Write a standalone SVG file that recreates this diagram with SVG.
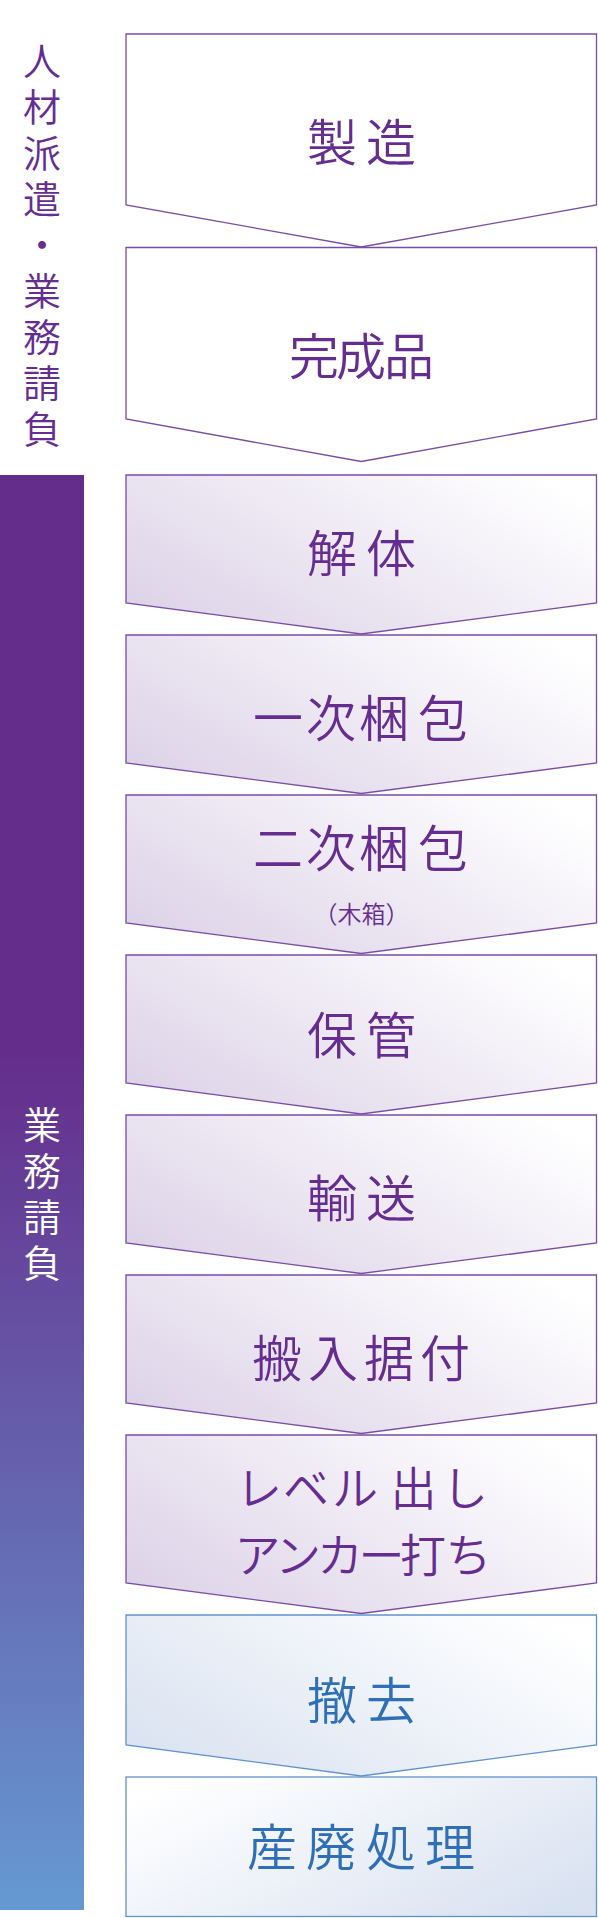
<svg xmlns="http://www.w3.org/2000/svg" width="598" height="1918" viewBox="0 0 598 1918">
<defs>
<linearGradient id="gP" x1="0" y1="0.8" x2="1" y2="0.2">
<stop offset="0" stop-color="#ddd3e8"/>
<stop offset="1" stop-color="#ffffff"/>
</linearGradient>
<linearGradient id="gB1" x1="0" y1="0.8" x2="1" y2="0.2">
<stop offset="0" stop-color="#dae3f1"/>
<stop offset="1" stop-color="#ffffff"/>
</linearGradient>
<linearGradient id="gB2" x1="0" y1="0.2" x2="1" y2="0.8">
<stop offset="0" stop-color="#ffffff"/>
<stop offset="1" stop-color="#d9e2f1"/>
</linearGradient>
<linearGradient id="gBar" gradientUnits="userSpaceOnUse" x1="0" y1="475" x2="0" y2="1910">
<stop offset="0" stop-color="#652d8b"/>
<stop offset="0.4" stop-color="#652d8b"/>
<stop offset="1" stop-color="#6699d1"/>
</linearGradient>
</defs>
<style>
text{font-family:"Noto Sans CJK JP","Noto Sans CJK SC",sans-serif;font-weight:350;dominant-baseline:central;text-anchor:middle}
.bw{fill:#ffffff;stroke:#7a4ca3;stroke-width:1.3}
.bp{fill:url(#gP);stroke:#7a4ca3;stroke-width:1.3}
.bb1{fill:url(#gB1);stroke:#5f93cf;stroke-width:1.3}
.bb2{fill:url(#gB2);stroke:#5f93cf;stroke-width:1.3}
.tp{fill:#662d91;font-size:50px}
.tm{fill:#662d91;font-size:46px}
.tb{fill:#2f6fb7;font-size:50px}
.ts{fill:#662d91;font-size:24px}
.vt{writing-mode:vertical-rl;text-anchor:start;font-size:38px;letter-spacing:8px}
.side{fill:#662d91}
.bar{fill:#ffffff}
</style>
<g id="side-label">
<text class="vt side" x="42" y="41.5">人材派遣・業務請負</text>
</g>
<g id="bar">
<rect x="0" y="475" width="84" height="1435" fill="url(#gBar)"/>
<text class="vt bar" x="42" y="1105.5">業務請負</text>
</g>
<g id="connectors"/>
<g id="n1">
<polygon class="bw" points="126,34 596.5,34 596.5,205 361.25,247 126,205"/>
<text class="tp" x="332 391" y="139">製造</text>
</g>
<g id="n2">
<polygon class="bw" points="126,247.5 596.5,247.5 596.5,419 361.25,461.5 126,419"/>
<text class="tp" x="314 361 409" y="352.5">完成品</text>
</g>
<g id="n3">
<polygon class="bp" points="126,475 596.5,475 596.5,603 361.25,634 126,603"/>
<text class="tp" x="332 391" y="550">解体</text>
</g>
<g id="n4">
<polygon class="bp" points="126,635 596.5,635 596.5,763 361.25,793.5 126,763"/>
<text class="tp" x="278 331 384 443" y="715">一次梱包</text>
</g>
<g id="n5">
<polygon class="bp" points="126,795 596.5,795 596.5,923 361.25,953.5 126,923"/>
<text class="tp" x="278 331 384 443" y="845">二次梱包</text>
<text class="ts" x="361.5" y="912">（木箱）</text>
</g>
<g id="n6">
<polygon class="bp" points="126,955 596.5,955 596.5,1083 361.25,1114 126,1083"/>
<text class="tp" x="332 391" y="1032">保管</text>
</g>
<g id="n7">
<polygon class="bp" points="126,1115 596.5,1115 596.5,1243 361.25,1273.5 126,1243"/>
<text class="tp" x="332 391" y="1195">輸送</text>
</g>
<g id="n8">
<polygon class="bp" points="126,1275 596.5,1275 596.5,1403 361.25,1433.5 126,1403"/>
<text class="tp" x="277 333 389 445" y="1355">搬入据付</text>
</g>
<g id="n9">
<polygon class="bp" points="126,1435 596.5,1435 596.5,1583 361.25,1613.5 126,1583"/>
<text class="tm" x="259 306 355 413.5 465" y="1485">レベル出し</text>
<text class="tm" x="257.5 298 340 381.5 423 468.5" y="1552">アンカー打ち</text>
</g>
<g id="n10">
<polygon class="bb1" points="126,1615 596.5,1615 596.5,1745 361.25,1776 126,1745"/>
<text class="tb" x="332 391" y="1697">撤去</text>
</g>
<g id="n11">
<rect class="bb2" x="126" y="1777" width="470.5" height="139.5"/>
<text class="tb" x="272 331 391 450" y="1843.5">産廃処理</text>
</g>
</svg>
